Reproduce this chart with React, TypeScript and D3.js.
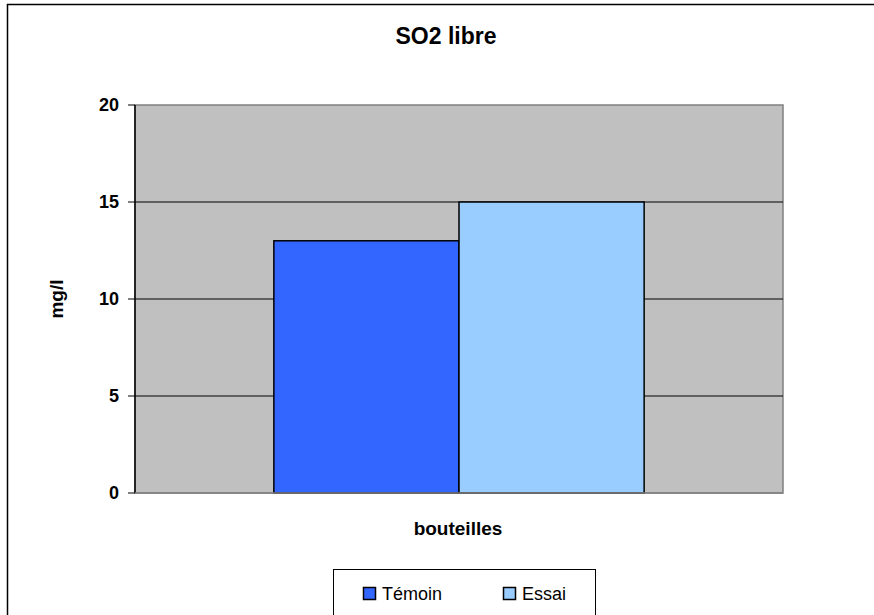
import React from "react";
import * as d3 from "d3";

const title = "SO2 libre";
const xAxisTitle = "bouteilles";
const yAxisTitle = "mg/l";
const categories = ["bouteilles"];
const seriesNames = ["Témoin", "Essai"];
const seriesValues = [13, 15];
const seriesColors = ["#3366FF", "#99CCFF"];
const yTicks = [0, 5, 10, 15, 20];

export default function App() {
  const W = 874;
  const H = 615;
  const plot = { left: 135, right: 783, top: 105, bottom: 493 };

  const y = d3.scaleLinear().domain([0, 20]).range([plot.bottom, plot.top]);
  const xCat = d3
    .scaleBand<string>()
    .domain(categories)
    .range([plot.left, plot.right])
    .paddingInner(0)
    .paddingOuter(0);
  const bw = xCat.bandwidth();
  // Excel gap width 150% => group width = bw / (1 + 1.5/2 * 2 / n)
  const n = seriesNames.length;
  const barW = bw / (n + 1.5);
  const groupStart = (xCat(categories[0]) as number) + (bw - barW * n) / 2;
  const xs = d3
    .scaleBand<string>()
    .domain(seriesNames)
    .range([groupStart, groupStart + barW * n])
    .padding(0);

  const font = "Arial, 'Liberation Sans', sans-serif";

  return (
    <svg
      width={W}
      height={H}
      style={{ position: "absolute", left: 0, top: 0, background: "#fff" }}
      fontFamily={font}
    >
      {/* outer chart border */}
      <rect x={7.5} y={4.5} width={950} height={800} fill="#fff" stroke="#000" strokeWidth={1.5} />

      {/* title */}
      <text x={446} y={44} textAnchor="middle" fontSize={23} fontWeight="bold">
        {title}
      </text>

      {/* plot area */}
      <rect
        x={plot.left}
        y={plot.top}
        width={plot.right - plot.left}
        height={plot.bottom - plot.top}
        fill="#C0C0C0"
        stroke="#808080"
        strokeWidth={1.5}
      />

      {/* gridlines */}
      {yTicks
        .filter((t) => t > 0 && t < 20)
        .map((t) => (
          <line
            key={"g" + t}
            x1={plot.left}
            x2={plot.right}
            y1={y(t)}
            y2={y(t)}
            stroke="#000"
            strokeWidth={1}
          />
        ))}

      {/* bars */}
      {seriesNames.map((s, i) => (
        <rect
          key={s}
          x={xs(s) as number}
          y={y(seriesValues[i])}
          width={xs.bandwidth()}
          height={y(0) - y(seriesValues[i])}
          fill={seriesColors[i]}
          stroke="#000"
          strokeWidth={1.5}
        />
      ))}

      {/* axes */}
      <line x1={plot.left} x2={plot.left} y1={plot.top} y2={plot.bottom} stroke="#000" strokeWidth={1.5} />
      <line x1={plot.left} x2={plot.right} y1={plot.bottom} y2={plot.bottom} stroke="#808080" strokeWidth={1.5} />
      {yTicks.map((t) => (
        <g key={"t" + t}>
          <line x1={plot.left - 7} x2={plot.left} y1={y(t)} y2={y(t)} stroke="#000" strokeWidth={1} />
          <text
            x={119}
            y={y(t)}
            dy="0.35em"
            textAnchor="end"
            fontSize={18}
            fontWeight="bold"
          >
            {t}
          </text>
        </g>
      ))}

      {/* axis titles */}
      <text
        transform={`translate(63, ${(plot.top + plot.bottom) / 2}) rotate(-90)`}
        textAnchor="middle"
        fontSize={19}
        fontWeight="bold"
      >
        {yAxisTitle}
      </text>
      <text x={458} y={535} textAnchor="middle" fontSize={19} fontWeight="bold">
        {xAxisTitle}
      </text>

      {/* legend */}
      <rect x={333.5} y={569.5} width={262} height={100} fill="#fff" stroke="#000" strokeWidth={1} />
      {seriesNames.map((s, i) => {
        const lx = i === 0 ? 363 : 503;
        return (
          <g key={"l" + s}>
            <rect x={lx + 0.5} y={587.5} width={12} height={12} fill={seriesColors[i]} stroke="#000" strokeWidth={1.5} />
            <text x={lx + 19} y={594} dy="0.35em" fontSize={18}>
              {s}
            </text>
          </g>
        );
      })}
    </svg>
  );
}
